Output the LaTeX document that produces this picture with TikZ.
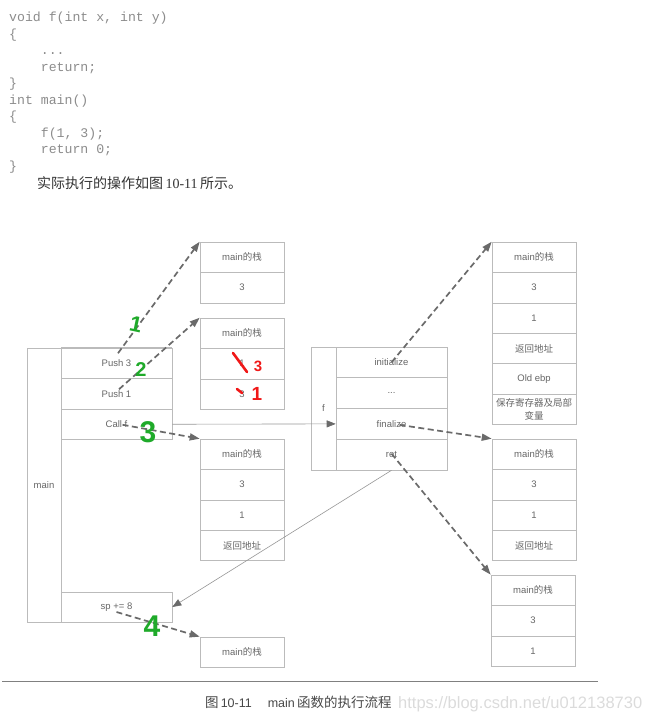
\documentclass[tikz,border=0pt]{standalone}
\usepackage{fontspec}
\setmainfont{Liberation Sans}
\newfontfamily\cjk{Noto Sans CJK SC}
\newfontfamily\codefont{Liberation Mono}
\newfontfamily\serifnum{Liberation Serif}
\usetikzlibrary{arrows.meta,calc}
\definecolor{boxc}{HTML}{BBBBBB}
\definecolor{txtc}{HTML}{666666}
\definecolor{arrc}{HTML}{6A6A6A}
\definecolor{codec}{HTML}{8C8C8C}
\definecolor{hgreen}{HTML}{1FAA2A}
\definecolor{hred}{HTML}{F01818}
\begin{document}
\begin{tikzpicture}[x=1pt,y=-1pt,
  cell/.style={draw=boxc, line width=0.6pt, minimum width=84pt, minimum height=30.4pt,
    inner sep=0pt, font=\fontsize{9.5}{11}\selectfont, text=txtc, align=center},
  mcell/.style={cell, minimum width=111pt, minimum height=30.5pt},
  fcell/.style={cell, minimum width=111pt, minimum height=30.75pt},
  dasharrow/.style={draw=arrc, line width=1.7pt, dash pattern=on 6pt off 3.5pt,
    -{Triangle[length=10pt,width=7pt]}},
  solidarrow/.style={draw=boxc!80!black, line width=0.6pt,
    -{Triangle[length=9pt,width=7pt,color=arrc,fill=arrc]}},
  codeline/.style={anchor=base west, inner sep=0pt, text=codec,
    font=\codefont\fontsize{13.2}{15}\selectfont},
  hand/.style={text=hgreen, inner sep=0pt, font=\bfseries},
  handr/.style={text=hred, inner sep=0pt, font=\bfseries}
]
\useasboundingbox (0,0) rectangle (651,712);

% ---------- code ----------
\node[codeline] (c1) at (9,21) {void f(int x, int y)};
\node[codeline] (c2) at (9,38) {\{};
\node[codeline] (c3) at (9,54.5) {\ \ \ \ ...};
\node[codeline] (c4) at (9,71) {\ \ \ \ return;};
\node[codeline] (c5) at (9,87.5) {\}};
\node[codeline] (c6) at (9,104) {int main()};
\node[codeline] (c7) at (9,120.5) {\{};
\node[codeline] (c8) at (9,137) {\ \ \ \ f(1, 3);};
\node[codeline] (c9) at (9,153.5) {\ \ \ \ return 0;};
\node[codeline] (c10) at (9,170) {\}};
\node[anchor=base west, inner sep=0pt, text=black!80, font=\fontsize{14}{15}\selectfont] (intro) at (37,188)
  {{\cjk 实际执行的操作如图}\,{\serifnum 10-11}\,{\cjk 所示。}};

% ---------- main block ----------
\node[cell, minimum width=34pt, minimum height=274pt] (mainL) at (44,485) {main};
\node[mcell] (p3) at (116.5,363.25) {Push 3};
\node[mcell] (p1) at (116.5,393.75) {Push 1};
\node[mcell] (cf) at (116.5,424.25) {Call f};
\node[mcell, minimum height=30pt] (sp) at (116.5,607) {sp += 8};
\draw[draw=boxc, line width=0.6pt] (mainL.north east) -- (p3.north east);
\draw[draw=boxc, line width=0.6pt] (mainL.south east) -- (sp.south east);

% ---------- f block ----------
\node[cell, minimum width=25pt, minimum height=123pt] (fL) at (323.5,408.5) {f};
\node[fcell] (init) at (391.5,362.375) {initialize};
\node[fcell] (dots) at (391.5,393.125) {...};
\node[fcell] (fin) at (391.5,423.875) {finalize};
\node[fcell] (ret) at (391.5,454.625) {ret};

% ---------- stacks ----------
\node[cell] (s1a) at (242,257.2) {main{\cjk 的栈}};
\node[cell] (s1b) at (242,287.6) {3};

\node[cell] (s2a) at (242,333.2) {main{\cjk 的栈}};
\node[cell] (s2b) at (242,363.6) {1};
\node[cell] (s2c) at (242,394.0) {3};

\node[cell] (s3a) at (242,454.2) {main{\cjk 的栈}};
\node[cell] (s3b) at (242,484.6) {3};
\node[cell] (s3c) at (242,515.0) {1};
\node[cell] (s3d) at (242,545.4) {{\cjk 返回地址}};

\node[cell] (s4a) at (242,652.2) {main{\cjk 的栈}};

\node[cell] (s5a) at (534,257.2) {main{\cjk 的栈}};
\node[cell] (s5b) at (534,287.6) {3};
\node[cell] (s5c) at (534,318.0) {1};
\node[cell] (s5d) at (534,348.4) {{\cjk 返回地址}};
\node[cell] (s5e) at (534,378.8) {Old ebp};
\node[cell, font=\cjk\fontsize{9.5}{12.5}\selectfont] (s5f) at (534,409.2) {保存寄存器及局部\\变量};

\node[cell] (s6a) at (534,454.2) {main{\cjk 的栈}};
\node[cell] (s6b) at (534,484.6) {3};
\node[cell] (s6c) at (534,515.0) {1};
\node[cell] (s6d) at (534,545.4) {{\cjk 返回地址}};

\node[cell] (s7a) at (533,590.2) {main{\cjk 的栈}};
\node[cell] (s7b) at (533,620.6) {3};
\node[cell] (s7c) at (533,651.0) {1};

% ---------- connectors ----------
\draw[solidarrow] (cf.east) -- (fin.west);
\draw[solidarrow] (ret.south) -- (sp.east);
\draw[dasharrow] ($(p3.center)+(1.5,-10)$) -- (s1a.north west);
\draw[dasharrow] ($(p1.center)+(2.5,-4.5)$) -- (s2a.north west);
\draw[dasharrow] ($(cf.center)+(6,0.5)$) -- (s3a.north west);
\draw[dasharrow] ($(sp.center)+(0,5)$) -- (s4a.north west);
\draw[dasharrow] (init.center) -- (s5a.north west);
\draw[dasharrow] ($(fin.center)+(8,1)$) -- (s6a.north west);
\draw[dasharrow] ($(ret.center)+(0,-1)$) -- (s7a.north west);

% ---------- handwritten marks ----------
\node[hand, font=\bfseries\fontsize{22}{22}\selectfont, rotate=-12] (g1) at (136,324) {1};
\node[hand, font=\bfseries\fontsize{20}{20}\selectfont] (g2) at (141,370) {2};
\node[hand, font=\bfseries\fontsize{30}{30}\selectfont] (g3) at (148,432) {3};
\node[hand, font=\bfseries\fontsize{30}{30}\selectfont] (g4) at (152,626) {4};
\coordinate (ra1) at (233,353);
\coordinate (ra2) at (247,372);
\coordinate (rb1) at (237,389);
\coordinate (rb2) at (242,393);
\draw[hred, line width=2.6pt, line cap=round] (ra1) -- (ra2);
\draw[hred, line width=2.6pt, line cap=round] (rb1) -- (rb2);
\node[handr, font=\bfseries\fontsize{15}{15}\selectfont] (r3) at (258,366) {3};
\node[handr, font=\bfseries\fontsize{19}{19}\selectfont] (r1) at (257,394) {1};

% ---------- caption ----------
\coordinate (rule1) at (2,681);
\coordinate (rule2) at (598,681);
\draw[draw=black!50, line width=0.9pt] (rule1) -- (rule2);
\node[anchor=base west, inner sep=0pt, text=black!72, font=\fontsize{12.5}{14}\selectfont] (cap) at (205,707)
  {{\cjk\fontsize{13.5}{14}\selectfont 图}\,10-11\hspace{16pt}main\,{\cjk\fontsize{13.5}{14}\selectfont 函数的执行流程}};
\node[anchor=base west, inner sep=0pt, text=black!14, font=\fontsize{16.5}{18}\selectfont] (wm) at (398,708)
  {https://blog.csdn.net/u012138730};
\end{tikzpicture}
\end{document}
